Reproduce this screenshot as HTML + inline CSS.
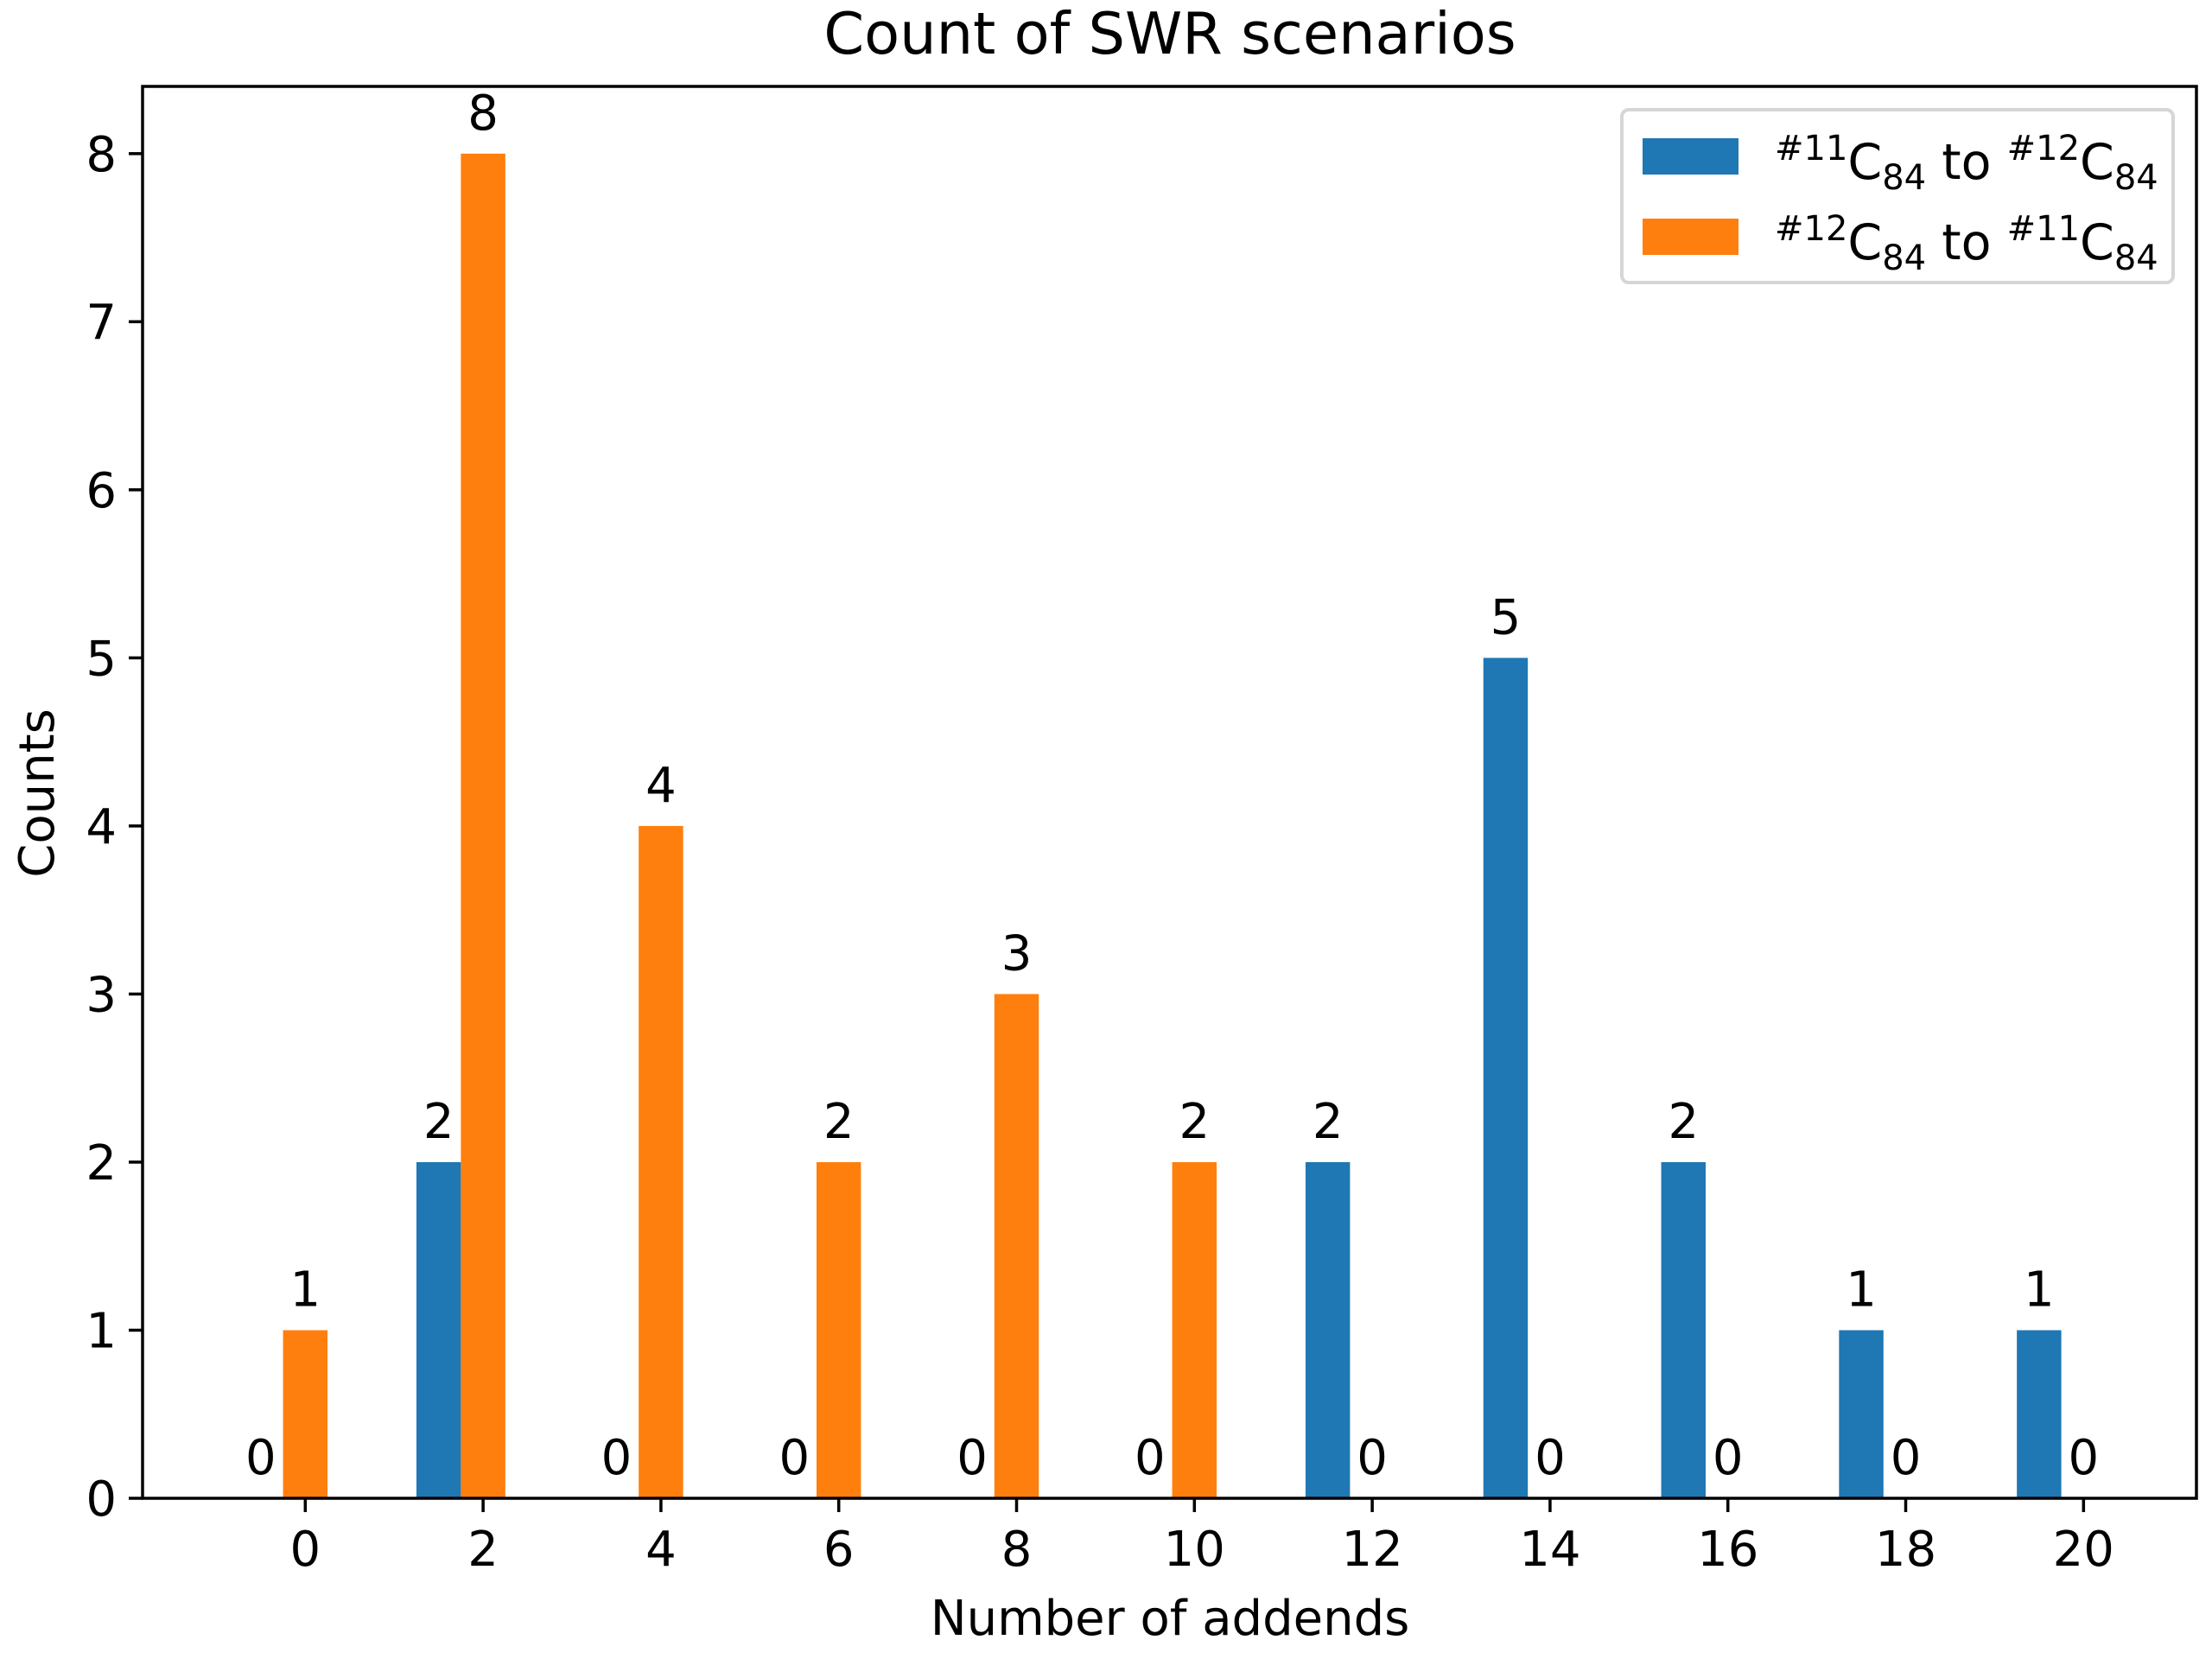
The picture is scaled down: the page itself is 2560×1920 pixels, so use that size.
<!DOCTYPE html>
<html><head><meta charset="utf-8"><style>
html,body{margin:0;padding:0;background:#fff}
svg{display:block}
text{font-family:"DejaVu Sans","Liberation Sans",sans-serif;fill:#000}
</style></head><body>
<svg id="chart" width="2560" height="1920" viewBox="0 0 2560 1920" xmlns="http://www.w3.org/2000/svg">
<rect width="2560" height="1920" fill="#fff"/>
<text x="1354" y="62" font-size="67" text-anchor="middle">Count of SWR scenarios</text>
<g id="bars"></g>
<g id="axes"></g>
<text x="1354" y="1892" font-size="56" text-anchor="middle">Number of addends</text>
<text x="62" y="918" font-size="56" text-anchor="middle" transform="rotate(-90 62 918)">Counts</text>
<g>
<rect x="1877" y="127" width="638" height="200" rx="8" fill="#fff" stroke="#d6d6d6" stroke-width="4"/>
<rect x="1901" y="160" width="111" height="42" fill="#1f77b4"/>
<rect x="1901" y="253" width="111" height="42" fill="#ff7f0e"/>
<text x="2054" y="207" font-size="57"><tspan font-size="40" dy="-22">#11</tspan><tspan dy="22">C</tspan><tspan font-size="40" dy="12">84</tspan><tspan dy="-12"> to </tspan><tspan font-size="40" dy="-22">#12</tspan><tspan dy="22">C</tspan><tspan font-size="40" dy="12">84</tspan></text>
<text x="2054" y="300" font-size="57"><tspan font-size="40" dy="-22">#12</tspan><tspan dy="22">C</tspan><tspan font-size="40" dy="12">84</tspan><tspan dy="-12"> to </tspan><tspan font-size="40" dy="-22">#11</tspan><tspan dy="22">C</tspan><tspan font-size="40" dy="12">84</tspan></text>
</g>
</svg>
<script>
const categories = [0,2,4,6,8,10,12,14,16,18,20];
const blueValues = [0,2,0,0,0,0,2,5,2,1,1];
const orangeValues = [1,8,4,2,3,2,0,0,0,0,0];
const yTicks = [0,1,2,3,4,5,6,7,8];

const NS = 'http://www.w3.org/2000/svg';
const L = 165, R = 2542, T = 100, B = 1734;
const xMin = -1.83, xMax = 21.27, yMax = 8.4;
const xs = v => L + (v - xMin) / (xMax - xMin) * (R - L);
const ys = v => B - v / yMax * (B - T);
const barW = xs(0.5) - xs(0);

function mk(tag, attrs, parent){
  const e = document.createElementNS(NS, tag);
  for (const k in attrs) e.setAttribute(k, attrs[k]);
  parent.appendChild(e);
  return e;
}
const bars = document.getElementById('bars');
const axes = document.getElementById('axes');

categories.forEach((c, i) => {
  const series = [[blueValues[i], c - 0.5, '#1f77b4', 'blue'], [orangeValues[i], c, '#ff7f0e', 'orange']];
  series.forEach(([v, cx, col, nm]) => {
    const r = mk('rect', {x: xs(cx) - barW/2, y: ys(v), width: barW, height: ys(0) - ys(v), fill: col}, bars);
    
    
    const t = mk('text', {x: xs(cx), y: ys(v) - 28, 'font-size': 56, 'text-anchor': 'middle'}, bars);
    
    
    t.textContent = v;
  });
});

const frame = mk('rect', {x: L, y: T, width: R - L, height: B - T, fill: 'none', stroke: '#000', 'stroke-width': 3.5}, axes);



categories.forEach(c => {
  const ln = mk('line', {x1: xs(c), x2: xs(c), y1: B, y2: B + 16, stroke: '#000', 'stroke-width': 3.5}, axes);
  
  
  const t = mk('text', {x: xs(c), y: B + 78, 'font-size': 56, 'text-anchor': 'middle'}, axes);
  
  
  t.textContent = c;
});
yTicks.forEach(v => {
  const ln = mk('line', {x1: L - 16, x2: L, y1: ys(v), y2: ys(v), stroke: '#000', 'stroke-width': 3.5}, axes);
  
  
  const t = mk('text', {x: L - 30, y: ys(v) + 20, 'font-size': 56, 'text-anchor': 'end'}, axes);
  
  
  t.textContent = v;
});
</script>
</body></html>
